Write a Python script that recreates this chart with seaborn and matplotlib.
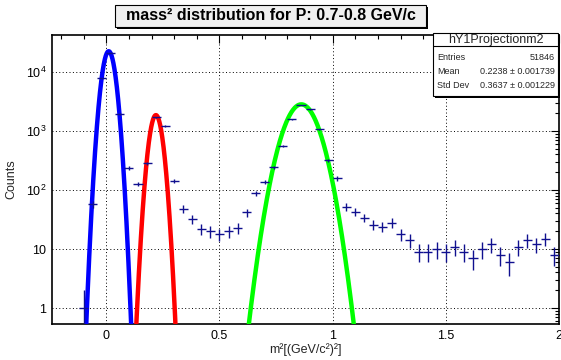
import numpy as np
import matplotlib
matplotlib.use("Agg")
import matplotlib.pyplot as plt
import matplotlib.ticker as mticker
from matplotlib.patches import Rectangle
import seaborn as sns

# ---- data ----
bin_centers = [-0.22, -0.18, -0.14, -0.10, -0.06, -0.02, 0.02, 0.06, 0.10, 0.14,
               0.18, 0.22, 0.26, 0.30, 0.34, 0.38, 0.42, 0.46, 0.50, 0.54,
               0.58, 0.62, 0.66, 0.70, 0.74, 0.78, 0.82, 0.86, 0.90, 0.94,
               0.98, 1.02, 1.06, 1.10, 1.14, 1.18, 1.22, 1.26, 1.30, 1.34,
               1.38, 1.42, 1.46, 1.50, 1.54, 1.58, 1.62, 1.66, 1.70, 1.74,
               1.78, 1.82, 1.86, 1.90, 1.94, 1.98]
counts = [0, 0, 0, 1, 58, 7800, 21300, 1940, 237, 126,
          283, 1700, 1210, 142, 48, 32, 22, 20, 18, 20,
          23, 42, 88, 136, 243, 555, 1570, 2760, 2330, 1065,
          322, 157, 52, 43, 34, 26, 24, 28, 18, 14,
          9, 9, 10, 9, 11, 9, 7, 10, 12, 8,
          6, 11, 14, 12, 15, 8]
bin_width = 0.04

# Gaussian fit parameters (amplitude, mean, sigma, draw range)
fit_names = ["pion", "kaon", "proton"]
fit_amp = [22500, 1860, 2830]
fit_mean = [0.0105, 0.219, 0.8615]
fit_sigma = [0.0215, 0.0214, 0.056]
fit_lo = [-0.15, 0.10, 0.50]
fit_hi = [0.17, 0.35, 1.25]
fit_colors = ["#0000ff", "#ff0000", "#00ff00"]

title = "mass² distribution for P: 0.7-0.8 GeV/c"
xlabel = "m²[(GeV/c²)²]"
ylabel = "Counts"
stats_name = "hY1Projectionm2"
stats_rows = [("Entries", "51846"), ("Mean", "0.2238 ± 0.001739"), ("Std Dev", "0.3637 ± 0.001229")]

# ---- style ----
sns.set_theme(style="white")
plt.rcParams["font.family"] = ["Liberation Sans", "DejaVu Sans"]
plt.rcParams["mathtext.fontset"] = "custom"
plt.rcParams["mathtext.rm"] = "Liberation Sans"
plt.rcParams["mathtext.it"] = "Liberation Sans"

W, H = 561, 360
fig = plt.figure(figsize=(W / 100, H / 100), dpi=100)
fig.patch.set_facecolor("white")

def fx(px):
    return px / W

def fy(py):
    return 1 - py / H

ax = fig.add_axes([fx(52), fy(324), fx(559) - fx(52), fy(35) - fy(324)])
ax.set_facecolor("white")

# fits
for amp, mu, sg, lo, hi, col in zip(fit_amp, fit_mean, fit_sigma, fit_lo, fit_hi, fit_colors):
    xs = np.linspace(lo, hi, 400)
    ys = amp * np.exp(-0.5 * ((xs - mu) / sg) ** 2)
    sns.lineplot(x=xs, y=ys, ax=ax, color=col, lw=3.2, estimator=None, sort=False, zorder=3)

# histogram points with errors
bc = np.array(bin_centers)
ct = np.array(counts, dtype=float)
m = ct > 0
err = np.sqrt(ct[m])
lower = np.minimum(err, ct[m] - 1e-3)
ax.errorbar(bc[m], ct[m], xerr=bin_width / 2, yerr=[lower, err], fmt="none",
            ecolor="#10108f", elinewidth=1.0, capsize=0, zorder=4)

ax.set_yscale("log")
ax.set_xlim(-0.24, 2.0)
ax.set_ylim(0.536, 42400)

ax.xaxis.set_major_locator(mticker.MultipleLocator(0.5))
ax.xaxis.set_minor_locator(mticker.MultipleLocator(0.1))
ax.xaxis.set_major_formatter(mticker.FuncFormatter(lambda v, p: "0" if abs(v) < 1e-9 else f"{v:g}"))
ax.yaxis.set_major_locator(mticker.LogLocator(base=10, numticks=10))
ax.yaxis.set_minor_locator(mticker.LogLocator(base=10, subs=np.arange(2, 10), numticks=20))
ax.yaxis.set_minor_formatter(mticker.NullFormatter())

def yfmt(v, p):
    e = int(round(np.log10(v)))
    if e == 0:
        return "1"
    if e == 1:
        return "10"
    return r"$10^{%d}$" % e
ax.yaxis.set_major_formatter(mticker.FuncFormatter(yfmt))

ax.tick_params(which="both", direction="in", top=True, right=True, colors="black",
               labelsize=9, pad=4)
ax.tick_params(which="major", length=6, width=0.8)
ax.tick_params(which="minor", length=3, width=0.8)

ax.grid(True, which="major", color="black", linestyle=(0, (1, 2.5)), linewidth=0.7)
for s in ax.spines.values():
    s.set_color("black")
    s.set_linewidth(1.2)

ax.set_xlabel(xlabel, fontsize=9, labelpad=1)
ax.set_ylabel(ylabel, fontsize=9, labelpad=6)

# title box with shadow
tb = (115, 5, 426, 27)
fig.add_artist(Rectangle((fx(tb[0] + 2), fy(tb[3] + 2)), fx(tb[2]) - fx(tb[0]), fy(tb[1]) - fy(tb[3]),
                         transform=fig.transFigure, facecolor="black", edgecolor="none"))
fig.add_artist(Rectangle((fx(tb[0]), fy(tb[3])), fx(tb[2]) - fx(tb[0]), fy(tb[1]) - fy(tb[3]),
                         transform=fig.transFigure, facecolor="#f0f0f0", edgecolor="black", lw=0.8))
fig.text(fx((tb[0] + tb[2]) / 2), fy((tb[1] + tb[3]) / 2), title, ha="center", va="center",
         fontsize=11.5, fontweight="bold", color="black")

# stats box
sb = (433, 33, 558, 96)
fig.add_artist(Rectangle((fx(sb[0] + 2), fy(sb[3] + 2)), fx(sb[2]) - fx(sb[0]), fy(sb[1]) - fy(sb[3]),
                         transform=fig.transFigure, facecolor="black", edgecolor="none", zorder=10))
fig.add_artist(Rectangle((fx(sb[0]), fy(sb[3])), fx(sb[2]) - fx(sb[0]), fy(sb[1]) - fy(sb[3]),
                         transform=fig.transFigure, facecolor="white", edgecolor="black", lw=0.8, zorder=11))
fig.add_artist(plt.Line2D([fx(sb[0]), fx(sb[2])], [fy(46), fy(46)], transform=fig.transFigure,
                          color="black", lw=0.8, zorder=12))
fig.text(fx((sb[0] + sb[2]) / 2), fy(40), stats_name, ha="center", va="center", fontsize=9, zorder=13)
row_y = [58, 72, 86]
for (lab, val), yy in zip(stats_rows, row_y):
    fig.text(fx(437), fy(yy), lab, ha="left", va="center", fontsize=6.5, zorder=13)
    fig.text(fx(555), fy(yy), val, ha="right", va="center", fontsize=6.5, zorder=13)

fig.savefig("out.png", dpi=100, facecolor="white")
